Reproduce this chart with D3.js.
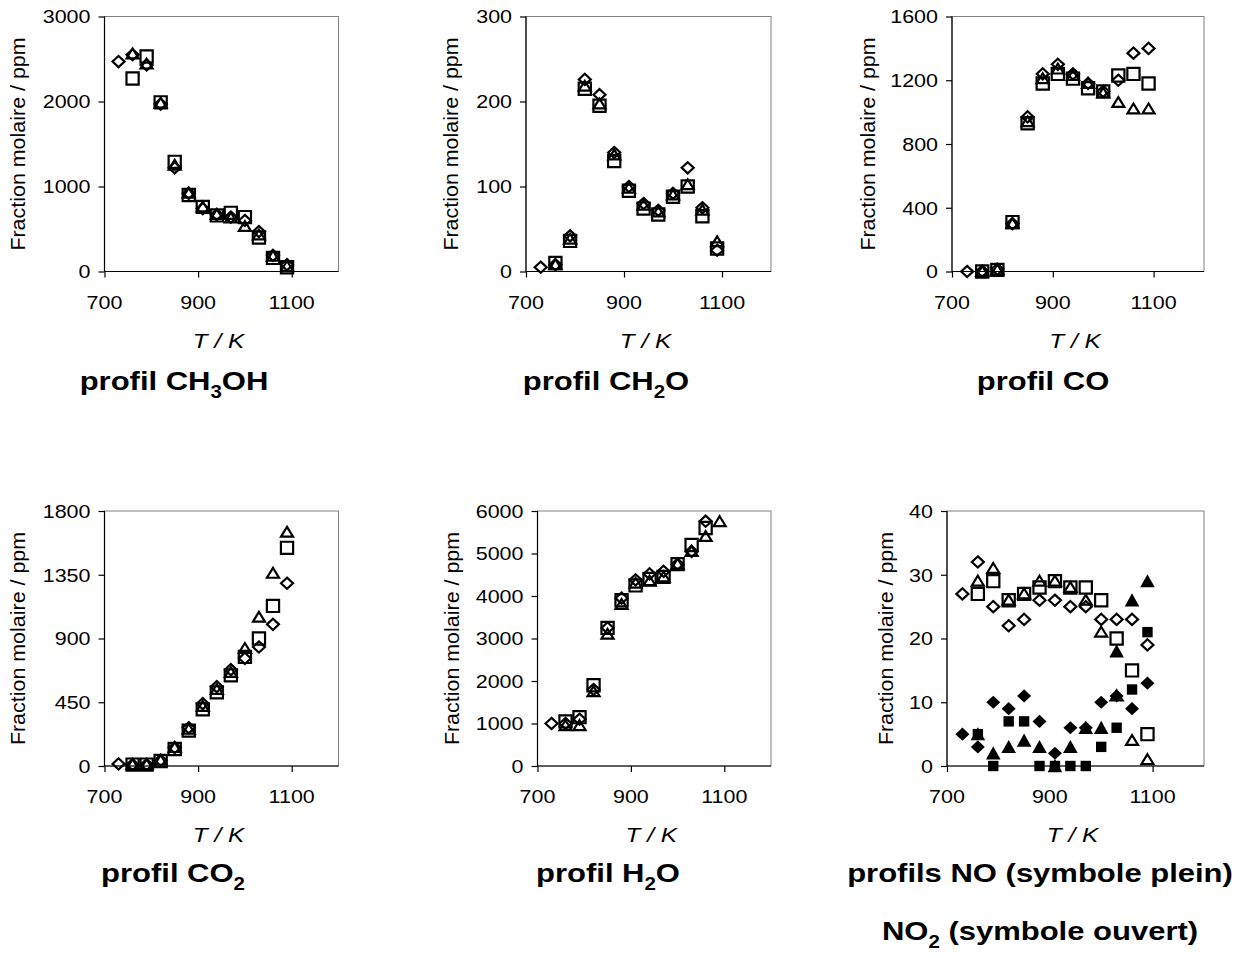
<!DOCTYPE html>
<html><head><meta charset="utf-8">
<script src="https://cdn.jsdelivr.net/npm/d3@7"></script>
<style>body{margin:0;background:#fff}</style>
</head><body>
<svg id="c" width="1255" height="958"></svg>
<script>
// ---------------- DATA ----------------
const temperatures = [730, 760, 790, 820, 850, 880, 910, 940, 970, 1000, 1030, 1060, 1090];
const xTicks = [700, 900, 1100];

const ch3ohDiamond  = [2470, 2550, 2430, 1970, 1220, 920, 740, 670, 640, 600, 470, 190, 80];
const ch3ohSquare   = [null, 2270, 2530, 1990, 1290, 900, 760, 660, 690, 640, 400, 160, 50];
const ch3ohTriangle = [null, 2560, 2440, 1980, 1250, 920, 760, 670, 630, 530, 430, 180, 60];
const ch3ohTicks = [0, 1000, 2000, 3000];

const ch2oDiamond  = [5, 8, 42, 226, 208, 140, 100, 80, 72, 92, 122, 75, 25];
const ch2oSquare   = [null, 10, 36, 215, 195, 130, 95, 74, 67, 88, 100, 65, 27];
const ch2oTriangle = [null, 8, 38, 218, 197, 137, 98, 78, 70, 90, 102, 72, 35];
const ch2oTicks = [0, 100, 200, 300];

const coDiamond  = [0, 2, 15, 300, 970, 1240, 1300, 1240, 1180, 1130, 1200, 1370, 1400];
const coSquare   = [null, 0, 10, 310, 930, 1180, 1240, 1210, 1150, 1130, 1230, 1240, 1180];
const coTriangle = [null, 0, 10, 300, 940, 1210, 1270, 1230, 1180, 1120, 1060, 1020, 1020];
const coTicks = [0, 400, 800, 1200, 1600];

const co2Diamond  = [15, 10, 10, 40, 130, 270, 440, 560, 680, 760, 840, 1000, 1290];
const co2Square   = [null, 10, 10, 35, 120, 250, 400, 520, 640, 770, 900, 1130, 1540];
const co2Triangle = [null, 10, 10, 40, 130, 260, 420, 540, 660, 830, 1050, 1360, 1650];
const co2Ticks = [0, 450, 900, 1350, 1800];

const h2oDiamond  = [1000, 1000, 1100, 1800, 3250, 3950, 4380, 4520, 4580, 4750, 5050, 5760, null];
const h2oSquare   = [null, 1050, 1150, 1900, 3250, 3900, 4250, 4400, 4450, 4750, 5200, 5600, null];
const h2oTriangle = [null, 950, 950, 1750, 3100, 3800, 4300, 4350, 4450, 4750, 5050, 5400, 5750];
const h2oTicks = [0, 1000, 2000, 3000, 4000, 5000, 6000];

const no2Diamond  = [27, 32, 25, 22, 23, 26, 26, 25, 25, 23, 23, 23, 19];
const no2Square   = [null, 27, 29, 26, 27, 28, 29, 28, 28, 26, 20, 15, 5];
const no2Triangle = [null, 29, 31, 26, 27, 29, 29, 28, 26, 21, 11, 4, 1];
const noDiamond   = [5, 3, 10, 9, 11, 7, 2, 6, 6, 10, 11, 9, 13];
const noSquare    = [null, 5, 0, 7, 7, 0, 0, 0, 0, 3, 6, 12, 21];
const noTriangle  = [null, 5, 2, 3, 4, 3, 0, 3, 6, 6, 18, 26, 29];
const noTicks = [0, 10, 20, 30, 40];

const yTitle = "Fraction molaire / ppm";
const xTitle = "T / K";
// title parts: [text, isSubscript]
const titleCH3OH = [["profil CH", 0], ["3", 1], ["OH", 0]];
const titleCH2O  = [["profil CH", 0], ["2", 1], ["O", 0]];
const titleCO    = [["profil CO", 0]];
const titleCO2   = [["profil CO", 0], ["2", 1]];
const titleH2O   = [["profil H", 0], ["2", 1], ["O", 0]];
const titleNO1   = [["profils NO (symbole plein)", 0]];
const titleNO2   = [["NO", 0], ["2", 1], [" (symbole ouvert)", 0]];

// ---------------- DRAWING ----------------
const svg = d3.select("#c");
const FONT = "'Liberation Sans', Arial, sans-serif";

const shapes = {
  oDiamond:  {d: "M0,-5.6L6,0L0,5.6L-6,0Z", fill: "none", stroke: 2.2},
  oSquare:   {d: "M-6.1,-6.1H6.1V6.1H-6.1Z", fill: "none", stroke: 2.2},
  oTriangle: {d: "M0,-5.4L6,4.4L-6,4.4Z", fill: "none", stroke: 2.2},
  fDiamond:  {d: "M0,-6.6L7,0L0,6.6L-7,0Z", fill: "#000", stroke: 0},
  fSquare:   {d: "M-5.2,-5.2H5.2V5.2H-5.2Z", fill: "#000", stroke: 0},
  fTriangle: {d: "M0,-7L7.3,6.2L-7.3,6.2Z", fill: "#000", stroke: 0}
};

function addText(x, y, parts, o) {
  const g = svg.append("g")
    .attr("transform", `translate(${x},${y}) rotate(${o.rotate || 0}) scale(${o.sx || 1},1)`);
  const t = g.append("text")
    .attr("font-family", FONT)
    .attr("font-size", o.size)
    .attr("font-weight", o.weight || "normal")
    .attr("font-style", o.italic ? "italic" : "normal")
    .attr("text-anchor", o.anchor || "start")
    .attr("fill", "#000");
  if (o.dy) t.attr("dy", o.dy);
  if (typeof parts === "string") { t.text(parts); return t; }
  let shifted = 0;
  parts.forEach(([s, sub]) => {
    const sp = t.append("tspan").text(s);
    if (sub && !shifted) { sp.attr("dy", o.size * 0.3).attr("font-size", o.size * 0.66); shifted = 1; }
    else if (!sub && shifted) { sp.attr("dy", -o.size * 0.3); shifted = 0; }
  });
  return t;
}

const panels = [
  {L: 104.5, R: 338.5, T: 16.5, B: 271.5, ticks: ch3ohTicks, ttx: 25,
   series: [[ch3ohDiamond, "oDiamond"], [ch3ohSquare, "oSquare"], [ch3ohTriangle, "oTriangle"]]},
  {L: 526, R: 771, T: 16.5, B: 271.5, ticks: ch2oTicks, ttx: 458,
   series: [[ch2oDiamond, "oDiamond"], [ch2oSquare, "oSquare"], [ch2oTriangle, "oTriangle"]]},
  {L: 952, R: 1204, T: 16.5, B: 271.5, ticks: coTicks, ttx: 875,
   series: [[coDiamond, "oDiamond"], [coSquare, "oSquare"], [coTriangle, "oTriangle"]]},
  {L: 104.5, R: 338.5, T: 511, B: 766, ticks: co2Ticks, ttx: 25,
   series: [[co2Diamond, "oDiamond"], [co2Square, "oSquare"], [co2Triangle, "oTriangle"]]},
  {L: 537.5, R: 771, T: 511, B: 766, ticks: h2oTicks, ttx: 459,
   series: [[h2oDiamond, "oDiamond"], [h2oSquare, "oSquare"], [h2oTriangle, "oTriangle"]]},
  {L: 947, R: 1204, T: 511, B: 766, ticks: noTicks, ttx: 893,
   series: [[no2Diamond, "oDiamond"], [no2Square, "oSquare"], [no2Triangle, "oTriangle"],
            [noDiamond, "fDiamond"], [noSquare, "fSquare"], [noTriangle, "fTriangle"]]}
];

panels.forEach(p => {
  const x = d3.scaleLinear().domain([700, 1200]).range([p.L, p.R]);
  const y = d3.scaleLinear().domain([0, d3.max(p.ticks)]).range([p.B, p.T]);

  // plot area border (gray)
  svg.append("rect").attr("x", p.L).attr("y", p.T)
    .attr("width", p.R - p.L).attr("height", p.B - p.T)
    .attr("fill", "none").attr("stroke", "#808080").attr("stroke-width", 1);

  // y axis
  const ya = svg.append("g").attr("transform", `translate(${p.L},0)`)
    .call(d3.axisLeft(y).tickValues(p.ticks).tickSize(6).tickFormat(""));
  ya.selectAll("path,line").attr("stroke", "#000").attr("stroke-width", 1.2);
  ya.select(".domain").attr("d", `M0,${p.T}V${p.B}`);
  // x axis
  const xa = svg.append("g").attr("transform", `translate(0,${p.B})`)
    .call(d3.axisBottom(x).tickValues(xTicks).tickSize(6).tickFormat(""));
  xa.selectAll("path,line").attr("stroke", "#000").attr("stroke-width", 1.2);
  xa.select(".domain").attr("d", `M${p.L},0H${p.R}`);

  // tick labels
  p.ticks.forEach(v => addText(p.L - 14, y(v), String(v), {size: 19, sx: 1.13, anchor: "end", dy: "0.36em"}));
  xTicks.forEach(v => addText(x(v), p.B + 37, String(v), {size: 19, sx: 1.13, anchor: "middle"}));

  // axis titles
  addText(p.ttx, (p.T + p.B) / 2, yTitle, {size: 19.5, sx: 1.1, anchor: "middle", rotate: -90});
  addText((p.L + p.R) / 2 - 3, p.B + 76, xTitle, {size: 20, sx: 1.22, anchor: "middle", italic: true});

  // markers
  p.series.forEach(([vals, shp]) => {
    const s = shapes[shp];
    const pts = temperatures.map((t, i) => ({t, v: vals[i]})).filter(d => d.v !== null);
    svg.append("g").selectAll("path").data(pts).join("path")
      .attr("d", s.d)
      .attr("transform", d => `translate(${x(d.t)},${y(d.v)})`)
      .attr("fill", s.fill)
      .attr("stroke", s.stroke ? "#000" : "none")
      .attr("stroke-width", s.stroke)
      .attr("stroke-linejoin", "miter");
  });
});

// panel titles
const tOpt = {size: 26.5, weight: "bold", sx: 1.17, anchor: "middle"};
addText(174, 390, titleCH3OH, tOpt);
addText(606, 390, titleCH2O, tOpt);
addText(1043, 390, titleCO, tOpt);
addText(173, 882, titleCO2, tOpt);
addText(608, 882, titleH2O, tOpt);
addText(1040, 882, titleNO1, tOpt);
addText(1040, 940, titleNO2, tOpt);
</script>
</body></html>
